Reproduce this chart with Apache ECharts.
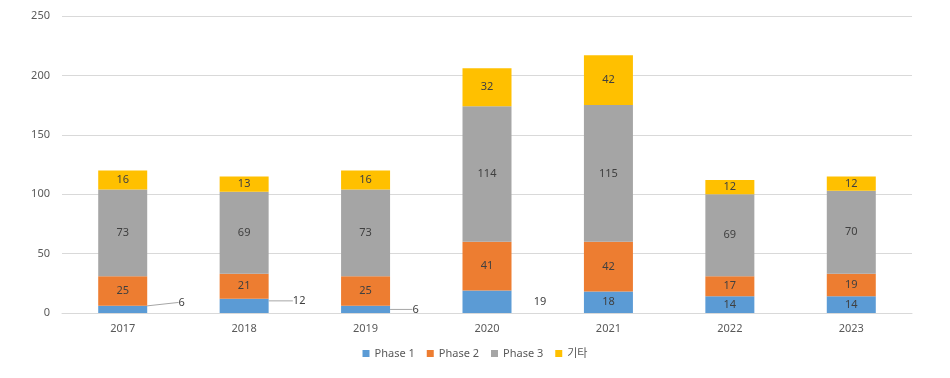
<!DOCTYPE html>
<html>
<head>
    <meta charset="utf-8">
    <title>연도별 현황</title>
    <script type="text/javascript" src="https://cdn.jsdelivr.net/npm/echarts@6/dist/echarts.min.js"></script>
    <style>
        body { margin: 0; background: #fff; }
        #bar { width: 950px; height: 378px; }
    </style>
</head>
<body>
<div id="bar"></div>

<script type="text/javascript">
    // 데이터
    var years = ['2017', '2018', '2019', '2020', '2021', '2022', '2023'];
    var phase1 = [6, 12, 6, 19, 18, 14, 14];
    var phase2 = [25, 21, 25, 41, 42, 17, 19];
    var phase3 = [73, 69, 73, 114, 115, 69, 70];
    var etc = [16, 13, 16, 32, 42, 12, 12];
    var yTicks = [0, 50, 100, 150, 200, 250];

    // Phase 1 라벨 중 막대 밖으로 빼는 것들 (dx, dy)
    var outside = {0: [59, -7], 1: [55, -5], 2: [50, 0], 3: [53, 0]};

    var font = "'Noto Sans', 'Noto Sans CJK KR', sans-serif";

    var myChart = echarts.init(document.getElementById('bar'));

    var p1Data = phase1.map(function (v, i) {
        if (i === 3) {
            return {value: v, labelLine: {show: false}};
        }
        return {value: v};
    });

    function mkLabel() {
        return {
            show: true,
            position: 'inside',
            color: '#404040',
            fontSize: 11,
            fontFamily: font
        };
    }

    var option = {
        animation: false,
        textStyle: {fontFamily: font},
        grid: {
            left: 62,
            right: 38,
            top: 16,
            bottom: 65
        },
        legend: {
            bottom: 14,
            left: 'center',
            itemWidth: 7,
            itemHeight: 7,
            itemGap: 12,
            icon: 'rect',
            textStyle: {color: '#595959', fontSize: 11, fontFamily: font},
            data: ['Phase 1', 'Phase 2', 'Phase 3', '기타']
        },
        xAxis: {
            type: 'category',
            data: years,
            axisLine: {lineStyle: {color: '#d9d9d9'}},
            axisTick: {show: false},
            axisLabel: {color: '#595959', fontSize: 11, margin: 10}
        },
        yAxis: {
            type: 'value',
            min: yTicks[0],
            max: yTicks[yTicks.length - 1],
            interval: 50,
            axisLine: {show: false},
            axisTick: {show: false},
            axisLabel: {color: '#595959', fontSize: 11, margin: 12},
            splitLine: {lineStyle: {color: '#d9d9d9'}}
        },
        series: [
            {
                name: 'Phase 1',
                type: 'bar',
                stack: 'total',
                barWidth: 49,
                itemStyle: {color: '#5B9BD5'},
                label: mkLabel(),
                labelLine: {show: true, lineStyle: {color: '#a6a6a6', width: 1}},
                labelLayout: function (params) {
                    var o = outside[params.dataIndex];
                    if (o) {
                        return {dx: o[0], dy: o[1]};
                    }
                    return {};
                },
                data: p1Data
            },
            {
                name: 'Phase 2',
                type: 'bar',
                stack: 'total',
                itemStyle: {color: '#ED7D31'},
                label: mkLabel(),
                data: phase2
            },
            {
                name: 'Phase 3',
                type: 'bar',
                stack: 'total',
                itemStyle: {color: '#A5A5A5'},
                label: mkLabel(),
                data: phase3
            },
            {
                name: '기타',
                type: 'bar',
                stack: 'total',
                itemStyle: {color: '#FFC000'},
                label: mkLabel(),
                data: etc
            }
        ]
    };
    myChart.setOption(option);
</script>
</body>
</html>
